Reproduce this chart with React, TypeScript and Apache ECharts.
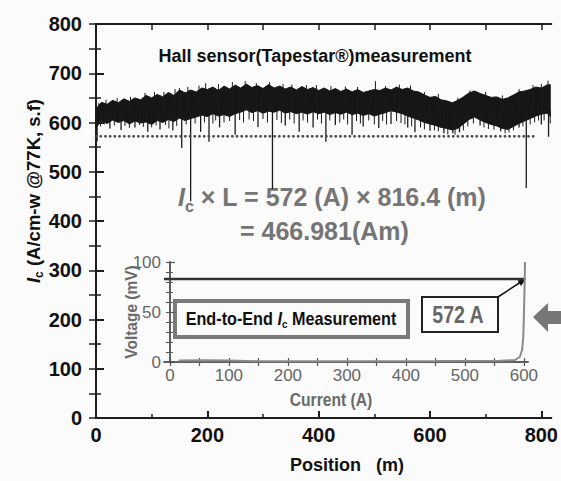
import { useEffect, useRef } from "react";
import * as echarts from "echarts";

// ---- main chart data (position in m, Ic in A/cm-w) ----
const positions = [
  0, 10, 20, 30, 40, 50, 60, 70, 80, 90,
  100, 110, 120, 130, 140, 150, 160, 170, 180, 190,
  200, 210, 220, 230, 240, 250, 260, 270, 280, 290,
  300, 310, 320, 330, 340, 350, 360, 370, 380, 390,
  400, 410, 420, 430, 440, 450, 460, 470, 480, 490,
  500, 510, 520, 530, 540, 550, 560, 570, 580, 590,
  600, 610, 620, 630, 640, 650, 660, 670, 680, 690,
  700, 710, 720, 730, 740, 750, 760, 770, 780, 790,
  800, 810, 816,
];
const bandTop = [
  628, 641, 637, 645, 640, 648, 643, 650, 646, 655,
  650, 657, 652, 661, 655, 666, 660, 666, 662, 670,
  667, 672, 665, 674, 668, 676, 670, 678, 671, 675,
  669, 677, 670, 674, 668, 672, 666, 673, 667, 671,
  665, 670, 664, 669, 663, 668, 662, 667, 661, 664,
  667, 665, 670, 666, 672, 667, 670, 664, 662, 656,
  651, 653, 646, 644, 640, 645, 652, 660, 664, 659,
  655, 651, 652, 647, 650, 656, 662, 664, 667, 672,
  670, 676, 677,
];
const bandBottom = [
  590, 603, 598, 605, 600, 604, 597, 603, 599, 601,
  596, 604, 600, 606, 602, 609, 604, 608, 611, 615,
  612, 618, 613, 616, 612, 618, 621, 626, 620, 624,
  619, 623, 621, 625, 619, 622, 618, 621, 617, 622,
  618, 621, 616, 620, 617, 621, 616, 619, 614, 618,
  613, 617, 620, 624, 621, 618, 613, 609, 605, 600,
  597, 594, 590, 588, 585, 588, 597, 606, 611, 605,
  600, 596, 593, 588, 586, 592, 598, 603, 608, 613,
  617, 619, 612,
];
// deep drop-outs
const spikePos = [
  2, 25, 45, 70, 93, 115, 138, 154, 170, 188, 203, 222, 250, 291, 317, 340, 365, 390,
  413, 430, 460, 480, 508, 530, 560, 573, 600, 625, 641, 653, 690, 727, 760, 773, 800, 813,
];
const spikeVal = [
  562, 588, 585, 590, 581, 586, 584, 548, 440, 581, 561, 590, 575, 591, 465, 594, 581, 590,
  561, 595, 575, 592, 589, 597, 590, 580, 583, 578, 578, 580, 594, 582, 590, 467, 596, 571,
];
// short noise excursions (below and above the band)
const hairPos = [
  8, 15, 33, 52, 60, 78, 85, 100, 108, 125, 131, 145, 162, 178, 195, 210, 215, 230, 240, 258,
  265, 275, 283, 300, 308, 325, 333, 348, 356, 372, 380, 398, 405, 420, 438, 445, 452, 468, 475, 490,
  500, 515, 522, 540, 548, 555, 567, 583, 590, 608, 615, 632, 645, 660, 668, 678, 697, 705, 715, 735,
  742, 750, 767, 780, 788, 795, 805, 816,
  5, 18, 38, 62, 88, 105, 122, 142, 150, 165, 185, 197, 220, 245, 268, 288, 312, 336, 352, 378, 396,
  422, 448, 470, 502, 520, 545, 565, 590, 615, 650, 672, 700, 730, 760, 785, 800, 812,
];
const hairVal = [
  592, 596, 594, 593, 589, 595, 591, 590, 594, 595, 588, 593, 596, 598, 600, 598, 604, 600, 603, 605,
  600, 606, 603, 607, 600, 605, 599, 606, 598, 604, 600, 606, 598, 604, 600, 606, 596, 603, 598, 604,
  596, 603, 596, 603, 599, 596, 592, 590, 586, 584, 582, 576, 575, 584, 592, 598, 590, 587, 585, 578,
  580, 584, 592, 596, 600, 604, 604, 598,
  640, 646, 650, 652, 660, 662, 662, 668, 670, 672, 675, 680, 678, 682, 684, 680, 682, 678, 677, 676, 676,
  674, 673, 672, 684, 674, 677, 675, 662, 658, 650, 665, 662, 655, 668, 676, 678, 685,
];
const icAverage = 572;
const avgLineRange = [0, 793];
const mainXLabels = [0, 200, 400, 600, 800];
const mainXMinor = [100, 300, 500, 700];
const mainXTop = [0, 100, 200, 300, 400, 500, 600, 700, 800];

// ---- inset data (current in A, voltage in mV) ----
const ivCurrent = [15, 60, 100, 150, 300, 450, 560, 585, 593, 597, 599, 600, 601, 602];
const ivVoltage = [1.5, 1.8, 1.5, 0.8, 0.8, 1, 1.2, 2, 5, 12, 25, 45, 70, 100];
const criterionVoltage = 83;
const criterionRange = [-10, 601];
const insetXLabels = [0, 100, 200, 300, 400, 500, 600];
const insetXTicks = [0, 50, 100, 150, 200, 250, 300, 350, 400, 450, 500, 550, 600];

const ARIAL = "'Liberation Sans', Arial, sans-serif";

const lineItem = (width: number) => (_params: any, api: any) => {
  const a = api.coord([api.value(0), 625]);
  const b = api.coord([api.value(0), api.value(1)]);
  return {
    type: "line",
    shape: { x1: a[0], y1: a[1], x2: b[0], y2: b[1] },
    style: { stroke: "#1a1a1a", lineWidth: width },
  };
};

export default function App() {
  const ref = useRef<HTMLDivElement>(null);
  useEffect(() => {
    document.body.style.margin = "0";
    const chart = echarts.init(ref.current!, null, { renderer: "svg" });
    const dark = "#1e1e1e";
    const insetC = "#555";
    const gray = "#757575";
    const band = "#161616";
    const option: any = {
      animation: false,
      backgroundColor: "#fbfbfb",
      grid: [
        { left: 96, top: 24, right: 5, bottom: 63 },
        { left: 164, top: 262, width: 364, height: 100 },
      ],
      xAxis: [
        {
          gridIndex: 0, type: "value", min: 0, max: 818, position: "bottom",
          axisLine: { lineStyle: { color: dark, width: 2 } },
          axisTick: { inside: true, length: 7, customValues: mainXLabels, lineStyle: { color: dark, width: 2 } },
          axisLabel: { customValues: mainXLabels, fontFamily: ARIAL, fontWeight: "bold", fontSize: 20, color: "#111", margin: 7 },
          splitLine: { show: false },
        },
        {
          gridIndex: 0, type: "value", min: 0, max: 818, position: "bottom",
          axisLine: { show: false },
          axisTick: { inside: true, length: 4, customValues: mainXMinor, lineStyle: { color: dark, width: 1.5 } },
          axisLabel: { show: false },
          splitLine: { show: false },
        },
        {
          gridIndex: 0, type: "value", min: 0, max: 818, position: "top",
          axisLine: { lineStyle: { color: dark, width: 2 } },
          axisTick: { inside: true, length: 6, customValues: mainXTop, lineStyle: { color: dark, width: 1.5 } },
          axisLabel: { show: false },
          splitLine: { show: false },
        },
        {
          gridIndex: 1, type: "value", min: -10, max: 607, position: "bottom",
          axisLine: { lineStyle: { color: insetC, width: 1.5 } },
          axisTick: { inside: true, length: 4, customValues: insetXTicks, lineStyle: { color: insetC, width: 1.2 } },
          axisLabel: { customValues: insetXLabels, fontFamily: ARIAL, fontSize: 17, color: "#666", margin: 5 },
          splitLine: { show: false },
        },
        {
          gridIndex: 1, type: "value", min: -10, max: 607, position: "top",
          axisLine: { lineStyle: { color: insetC, width: 1.5 } },
          axisTick: { inside: true, length: 4, customValues: insetXTicks, lineStyle: { color: insetC, width: 1.2 } },
          axisLabel: { show: false },
          splitLine: { show: false },
        },
      ],
      yAxis: [
        {
          gridIndex: 0, type: "value", min: 0, max: 800, interval: 100, position: "left",
          axisLine: { lineStyle: { color: dark, width: 2 } },
          axisTick: { inside: true, length: 8, lineStyle: { color: dark, width: 2 } },
          minorTick: { show: true, splitNumber: 2, length: 5, lineStyle: { color: dark, width: 1.5 } },
          axisLabel: { fontFamily: ARIAL, fontWeight: "bold", fontSize: 20, color: "#111", margin: 14 },
          splitLine: { show: false },
        },
        {
          gridIndex: 0, type: "value", min: 0, max: 800, interval: 50, position: "right",
          axisLine: { lineStyle: { color: dark, width: 2 } },
          axisTick: { inside: true, length: 7, lineStyle: { color: dark, width: 1.5 } },
          axisLabel: { show: false },
          splitLine: { show: false },
        },
        {
          gridIndex: 1, type: "value", min: 0, max: 100, interval: 50, position: "left",
          axisLine: { lineStyle: { color: insetC, width: 1.5 } },
          axisTick: { inside: true, length: 5, lineStyle: { color: insetC, width: 1.2 } },
          minorTick: { show: true, splitNumber: 5, length: 3, lineStyle: { color: insetC, width: 1 } },
          axisLabel: { fontFamily: ARIAL, fontSize: 17, color: "#666", margin: 3 },
          splitLine: { show: false },
        },
        {
          gridIndex: 1, type: "value", min: 0, max: 100, interval: 10, position: "right",
          axisLine: { lineStyle: { color: insetC, width: 1.5 } },
          axisTick: { inside: true, length: 4, lineStyle: { color: insetC, width: 1 } },
          axisLabel: { show: false },
          splitLine: { show: false },
        },
      ],
      series: [
        {
          type: "custom", xAxisIndex: 0, yAxisIndex: 0,
          data: [[positions[0], bandBottom[0], bandTop[0]]],
          encode: { x: 0, y: [1, 2] },
          renderItem: (_params: any, api: any) => {
            const upper = positions.map((p, i) => api.coord([p, bandTop[i]]));
            const lower = positions.map((p, i) => api.coord([p, bandBottom[i]])).reverse();
            return {
              type: "polygon",
              shape: { points: upper.concat(lower) },
              style: { fill: band, stroke: band, lineWidth: 1 },
            };
          },
        },
        {
          type: "custom", xAxisIndex: 0, yAxisIndex: 0,
          data: hairPos.map((p, i) => [p, hairVal[i]]),
          renderItem: lineItem(1),
        },
        {
          type: "custom", xAxisIndex: 0, yAxisIndex: 0,
          data: spikePos.map((p, i) => [p, spikeVal[i]]),
          renderItem: lineItem(1.3),
        },
        {
          type: "line", xAxisIndex: 0, yAxisIndex: 0, symbol: "none",
          data: avgLineRange.map((p) => [p, icAverage]),
          lineStyle: { color: "#4a4a4a", width: 2.8, type: [0.1, 4.6], cap: "round" },
        },
        {
          type: "line", xAxisIndex: 3, yAxisIndex: 2, symbol: "none",
          data: criterionRange.map((c) => [c, criterionVoltage]),
          lineStyle: { color: "#333", width: 2.5 },
        },
        {
          type: "line", xAxisIndex: 3, yAxisIndex: 2, symbol: "none", clip: true,
          data: ivCurrent.map((c, i) => [c, ivVoltage[i]]),
          lineStyle: { color: "#8a8a8a", width: 2 },
        },
      ],
      graphic: [
        {
          type: "text", x: 315, y: 56,
          style: {
            text: "Hall sensor(Tapestar®)measurement", fill: "#111",
            font: `bold 18px ${ARIAL}`, align: "center", verticalAlign: "middle",
          },
        },
        {
          type: "text", x: 33, y: 191, rotation: Math.PI / 2,
          style: {
            text: "{i|I}{s|c}{t| (A/cm-w @77K, s.f)}", align: "center", verticalAlign: "middle",
            rich: {
              i: { fontFamily: ARIAL, fontWeight: "bold", fontStyle: "italic", fontSize: 18.5, fill: "#111", lineHeight: 24 },
              s: { fontFamily: ARIAL, fontWeight: "bold", fontSize: 12, fill: "#111", lineHeight: 12, verticalAlign: "bottom" },
              t: { fontFamily: ARIAL, fontWeight: "bold", fontSize: 18.5, fill: "#111", lineHeight: 24 },
            },
          },
        },
        {
          type: "text", x: 178, y: 197,
          style: {
            text: "{i|I}{s|c}{t| × L = 572 (A) × 816.4 (m)}", align: "left", verticalAlign: "middle",
            rich: {
              i: { fontFamily: ARIAL, fontWeight: "bold", fontStyle: "italic", fontSize: 25, fill: gray, lineHeight: 34 },
              s: { fontFamily: ARIAL, fontWeight: "bold", fontSize: 16, fill: gray, lineHeight: 16, verticalAlign: "bottom" },
              t: { fontFamily: ARIAL, fontWeight: "bold", fontSize: 25, fill: gray, lineHeight: 34 },
            },
          },
        },
        {
          type: "text", x: 240, y: 231,
          style: {
            text: "= 466.981(Am)", fill: gray, font: `bold 25px ${ARIAL}`,
            align: "left", verticalAlign: "middle",
          },
        },
        {
          type: "text", x: 347, y: 465,
          style: {
            text: "Position   (m)", fill: "#111", font: `bold 18px ${ARIAL}`,
            align: "center", verticalAlign: "middle",
          },
        },
        {
          type: "text", x: 131, y: 312, rotation: Math.PI / 2, scaleX: 0.91,
          style: {
            text: "Voltage (mV)", fill: "#6a6a6a", font: `bold 17px ${ARIAL}`,
            align: "center", verticalAlign: "middle",
          },
        },
        {
          type: "text", x: 331, y: 400, scaleX: 0.87,
          style: {
            text: "Current (A)", fill: "#6a6a6a", font: `bold 18px ${ARIAL}`,
            align: "center", verticalAlign: "middle",
          },
        },
        {
          type: "rect", shape: { x: 175, y: 301, width: 233, height: 36 },
          style: { fill: "#fbfbfb", stroke: "#7a7a7a", lineWidth: 4 },
        },
        {
          type: "text", x: 291, y: 319, scaleX: 0.9,
          style: {
            text: "{t|End-to-End }{i|I}{s|c}{t| Measurement}", align: "center", verticalAlign: "middle",
            rich: {
              i: { fontFamily: ARIAL, fontWeight: "bold", fontStyle: "italic", fontSize: 18, fill: "#111", lineHeight: 22 },
              s: { fontFamily: ARIAL, fontWeight: "bold", fontSize: 11, fill: "#111", lineHeight: 11, verticalAlign: "bottom" },
              t: { fontFamily: ARIAL, fontWeight: "bold", fontSize: 18, fill: "#111", lineHeight: 22 },
            },
          },
        },
        {
          type: "rect", shape: { x: 422, y: 297, width: 76, height: 35 },
          style: { fill: "#fdfdfd", stroke: "#222", lineWidth: 2 },
        },
        {
          type: "text", x: 458, y: 315, scaleX: 0.85,
          style: {
            text: "572 A", fill: "#666", font: `bold 23px ${ARIAL}`,
            align: "center", verticalAlign: "middle",
          },
        },
        {
          type: "line", shape: { x1: 498, y1: 297, x2: 520, y2: 282.5 },
          style: { stroke: "#111", lineWidth: 1.5 },
        },
        {
          type: "polygon", shape: { points: [[526, 279], [521, 286], [517.5, 280.5]] },
          style: { fill: "#111" },
        },
        {
          type: "polygon",
          shape: { points: [[533, 317], [548, 303], [548, 311], [561, 311], [561, 324], [548, 324], [548, 332]] },
          style: { fill: "#777" },
        },
      ],
    };
    chart.setOption(option);
    return () => chart.dispose();
  }, []);
  return <div ref={ref} style={{ width: 561, height: 481 }} />;
}
